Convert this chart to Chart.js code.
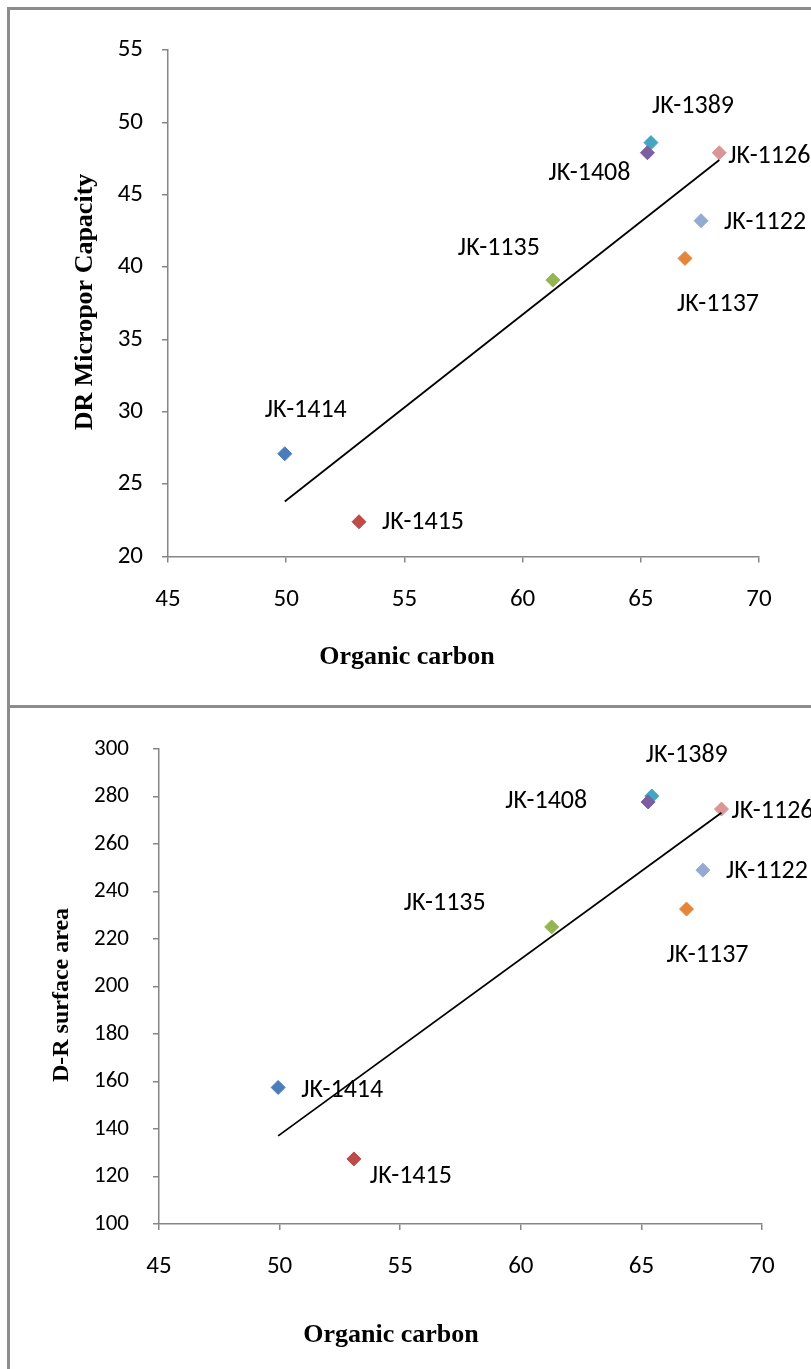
<!DOCTYPE html>
<html>
<head>
<meta charset="utf-8">
<script src="https://cdn.jsdelivr.net/npm/chart.js@4.4.1/dist/chart.umd.min.js"></script>
<style>
  html, body { margin: 0; padding: 0; background: #fff; }
  body { width: 811px; height: 1369px; position: relative; overflow: hidden; }
  .frame { position: absolute; left: 7px; width: 900px; border: 3px solid #8c8c8c; box-sizing: border-box; }
  #f1 { top: 7px; height: 701px; }
  #f2 { top: 705px; height: 700px; }
  canvas { position: absolute; left: 0; }
  #c1 { top: 0; }
  #c2 { top: 706px; }
</style>
</head>
<body>
<div class="frame" id="f1"></div>
<div class="frame" id="f2"></div>
<canvas id="c1" width="811" height="706"></canvas>
<canvas id="c2" width="811" height="663"></canvas>
<script>
// data
const samples = ['JK-1414', 'JK-1415', 'JK-1135', 'JK-1408', 'JK-1389', 'JK-1126', 'JK-1122', 'JK-1137'];
const organicCarbon = [49.94, 53.08, 61.28, 65.28, 65.43, 68.32, 67.55, 66.87];
const microporCapacity = [27.1, 22.4, 39.1, 47.9, 48.6, 47.9, 43.2, 40.6];
const surfaceArea = [157.5, 127.4, 225.1, 277.7, 280.2, 274.7, 249.0, 232.6];
const trendX = [49.94, 68.32];
const microporTrend = [23.8, 47.4];
const surfaceTrend = [137.1, 273.2];

const markerColors = ['#4a7ebb', '#be4b48', '#93b553', '#7c5fa0', '#43a5bf', '#d99694', '#93aad3', '#e3853a'];

// label placement per sample: [dx, dy, align]
const topLabelPos = [[21, -43, 'center'], [23, 1, 'left'], [-54, -32, 'center'], [-58, 21, 'center'],
  [42, -36, 'center'], [9, 4, 'left'], [23, 2, 'left'], [33, 46, 'center']];
const bottomLabelPos = [[23, 3, 'left'], [57, 18, 'center'], [-107, -23, 'center'], [-102, 0, 'center'],
  [35, -41, 'center'], [10, 2, 'left'], [23, 1, 'left'], [21, 46, 'center']];

const SANS = "Carlito, 'Open Sans', sans-serif";
const SERIF = "'Liberation Serif', 'Times New Roman', serif";

const pointLabels = {
  id: 'pointLabels',
  beforeDatasetsDraw(chart, args, opts) {
    const ctx = chart.ctx;
    ctx.save();
    ctx.fillStyle = '#000';
    ctx.font = '26px ' + SANS;
    ctx.textBaseline = 'middle';
    samples.forEach((name, i) => {
      const el = chart.getDatasetMeta(i).data[0];
      const p = opts.pos[i];
      ctx.textAlign = p[2];
      ctx.fillText(name, el.x + p[0], el.y + p[1]);
    });
    ctx.restore();
  }
};

const axisTitles = {
  id: 'axisTitles',
  afterDraw(chart, args, opts) {
    const ctx = chart.ctx;
    ctx.save();
    ctx.fillStyle = '#000';
    ctx.textAlign = 'center';
    ctx.textBaseline = 'middle';
    ctx.font = 'bold 26px ' + SERIF;
    ctx.fillText(opts.x.text, opts.x.cx, opts.x.cy);
    ctx.translate(opts.y.cx, opts.y.cy);
    ctx.rotate(-Math.PI / 2);
    ctx.font = 'bold ' + opts.y.size + 'px ' + SERIF;
    ctx.fillText(opts.y.text, 0, 0);
    ctx.restore();
  }
};

function makeDatasets(yValues, trendY) {
  const sets = samples.map((name, i) => ({
    label: name,
    data: [{ x: organicCarbon[i], y: yValues[i] }],
    pointStyle: 'rectRot',
    pointRadius: 7,
    backgroundColor: markerColors[i],
    borderColor: markerColors[i],
    borderWidth: 1,
    order: 1
  }));
  sets.push({
    label: 'Linear',
    data: trendX.map((x, i) => ({ x, y: trendY[i] })),
    showLine: true,
    borderColor: '#000',
    borderWidth: 1.8,
    pointRadius: 0,
    order: 0
  });
  return sets;
}

function axis(min, max, step, size, pad, fit) {
  return {
    type: 'linear', min, max,
    ticks: { stepSize: step, color: '#000', font: { family: SANS, size }, padding: pad },
    grid: { drawOnChartArea: false, color: '#868686', tickLength: 6, lineWidth: 1.5 },
    border: { color: '#868686', width: 1.5 },
    afterFit: fit
  };
}

function makeChart(id, yValues, trendY, yAxis, padding, labelPos, titles) {
  return new Chart(document.getElementById(id), {
    type: 'scatter',
    data: { datasets: makeDatasets(yValues, trendY) },
    options: {
      responsive: false,
      animation: false,
      events: [],
      layout: { padding },
      plugins: {
        legend: { display: false },
        tooltip: { enabled: false },
        pointLabels: { pos: labelPos },
        axisTitles: titles
      },
      scales: {
        x: axis(45, 70, 5, 25, 22, s => { s.height = 60; }),
        y: yAxis
      }
    },
    plugins: [pointLabels, axisTitles]
  });
}

makeChart('c1', microporCapacity, microporTrend,
  axis(20, 55, 5, 25, 19, s => { s.width = 168; }),
  { top: 50, right: 52, bottom: 89.5, left: 0 },
  topLabelPos,
  { x: { text: 'Organic carbon', cx: 407, cy: 657 },
    y: { text: 'DR Micropor Capacity', cx: 85, cy: 302, size: 26 } });

makeChart('c2', surfaceArea, surfaceTrend,
  axis(100, 300, 20, 23, 24, s => { s.width = 159; }),
  { top: 43, right: 49, bottom: 85, left: 0 },
  bottomLabelPos,
  { x: { text: 'Organic carbon', cx: 391, cy: 629 },
    y: { text: 'D-R surface area', cx: 62, cy: 289, size: 24 } });
</script>
</body>
</html>
